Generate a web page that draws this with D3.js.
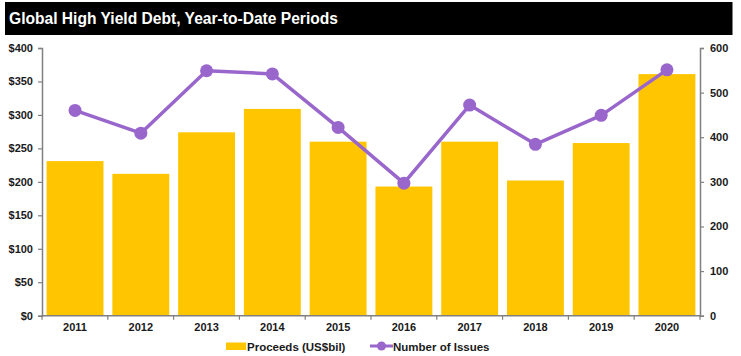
<!DOCTYPE html>
<html><head><meta charset="utf-8">
<script src="https://cdn.jsdelivr.net/npm/d3@7"></script>
<style>
body{margin:0;background:#fff;}
svg{display:block;font-family:"Liberation Sans",Arial,sans-serif;}
</style></head>
<body><svg id="c" width="741" height="356"></svg>
<script>
const years = ["2011","2012","2013","2014","2015","2016","2017","2018","2019","2020"];
const proceeds = [231, 212, 274, 309, 260, 193, 260, 202, 258, 361];
const issues = [460, 409, 549, 542, 422, 297, 472, 384, 449, 551];
const leftTicks = [0,50,100,150,200,250,300,350,400];
const rightTicks = [0,100,200,300,400,500,600];
const title = "Global High Yield Debt, Year-to-Date Periods";
const legendLabels = ["Proceeds (US$bil)", "Number of Issues"];

const svg = d3.select("#c");
const m = {l:42, r:700, t:48, b:315.7};
const gold = "#FFC600", purple = "#9966CC", axisCol = "#808080", txt = "#1a1a1a";

svg.append("rect").attr("x",5).attr("y",2).attr("width",727.5).attr("height",33).attr("fill","#000");
svg.append("text").attr("x",9).attr("y",24).attr("fill","#fff")
  .attr("font-size",15.6).attr("font-weight","bold").text(title);

const x = d3.scaleBand().domain(years).range([m.l,m.r]).paddingInner(0.135).paddingOuter(0.07);
const yL = d3.scaleLinear().domain([0,400]).range([m.b,m.t]);
const yR = d3.scaleLinear().domain([0,600]).range([m.b,m.t]);

svg.append("g").selectAll("rect").data(years).join("rect")
  .attr("x",d=>x(d)).attr("width",x.bandwidth())
  .attr("y",(d,i)=>yL(proceeds[i])).attr("height",(d,i)=>m.b-yL(proceeds[i]))
  .attr("fill",gold);

function styleAxis(g){
  g.select(".domain").attr("stroke",axisCol).attr("stroke-width",1.5);
  g.selectAll(".tick line").attr("stroke",axisCol).attr("stroke-width",1.2);
  g.selectAll("text").attr("font-size",11).attr("font-weight","bold").attr("fill",txt)
   .attr("font-family","'Liberation Sans',Arial,sans-serif");
}
const gl = svg.append("g").attr("transform",`translate(${m.l},0)`)
  .call(d3.axisLeft(yL).tickValues(leftTicks).tickFormat(d=>"$"+d).tickSizeOuter(0).tickSize(4).tickPadding(5));
styleAxis(gl);
const gr = svg.append("g").attr("transform",`translate(${m.r},0)`)
  .call(d3.axisRight(yR).tickValues(rightTicks).tickSizeOuter(0).tickSize(4).tickPadding(6));
styleAxis(gr);
const gx = svg.append("g").attr("transform",`translate(0,${m.b})`)
  .call(d3.axisBottom(x).tickSize(0).tickSizeOuter(0).tickPadding(8));
styleAxis(gx);
gx.select(".domain").attr("d",`M${m.l},0H${m.r}`);
const bounds = d3.range(years.length+1).map(i=> m.l + (m.r-m.l)*i/years.length);
gx.selectAll(".bt").data(bounds).join("line").attr("class","bt")
  .attr("x1",d=>d).attr("x2",d=>d).attr("y1",0).attr("y2",4)
  .attr("stroke",axisCol).attr("stroke-width",1.2);

const cx = (d)=> x(d)+x.bandwidth()/2;
const line = d3.line().x((d,i)=>cx(years[i])).y(d=>yR(d));
svg.append("path").datum(issues).attr("d",line).attr("fill","none")
  .attr("stroke",purple).attr("stroke-width",3.5).attr("stroke-linejoin","round");
svg.append("g").selectAll("circle").data(issues).join("circle")
  .attr("cx",(d,i)=>cx(years[i])).attr("cy",d=>yR(d)).attr("r",6.5).attr("fill",purple);

const lg = svg.append("g");
lg.append("rect").attr("x",226).attr("y",342.5).attr("width",20).attr("height",7.5).attr("fill",gold);
lg.append("text").attr("x",247).attr("y",350.5).attr("font-size",11.5).attr("font-weight","bold").attr("fill",txt).text(legendLabels[0]);
lg.append("line").attr("x1",370).attr("x2",393).attr("y1",346).attr("y2",346).attr("stroke",purple).attr("stroke-width",3);
lg.append("circle").attr("cx",381.5).attr("cy",346).attr("r",4.5).attr("fill",purple);
lg.append("text").attr("x",393).attr("y",350.5).attr("font-size",11.5).attr("font-weight","bold").attr("fill",txt).text(legendLabels[1]);
</script></body></html>
